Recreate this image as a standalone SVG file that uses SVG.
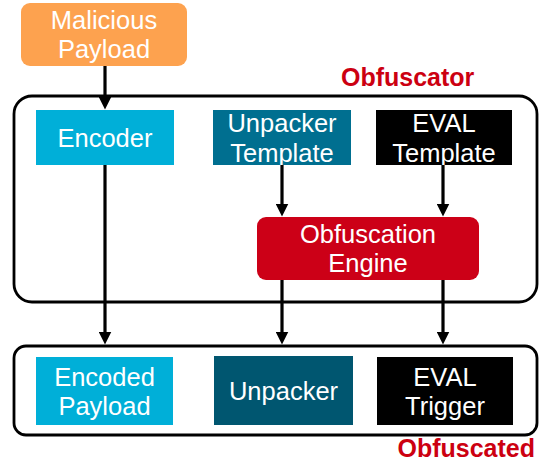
<svg xmlns="http://www.w3.org/2000/svg" width="543" height="464" viewBox="0 0 543 464">
  <style>
    .t { font-family: "Liberation Sans", Arial, sans-serif; font-size: 25.5px; fill: #ffffff; text-anchor: middle; }
    .lbl { font-family: "Liberation Sans", Arial, sans-serif; font-size: 25px; font-weight: bold; fill: #cc0011; }
    .frame { fill: #ffffff; stroke: #000000; stroke-width: 2.8; }
    .conn { stroke: #000000; stroke-width: 3.2; fill: none; marker-end: url(#ah); }
  </style>
  <defs>
    <marker id="ah" viewBox="0 0 13 13" markerWidth="13" markerHeight="13" refX="0.5" refY="6.5" orient="auto" markerUnits="userSpaceOnUse">
      <path d="M0,0 L13,6.5 L0,13 Z" fill="#000000"/>
    </marker>
  </defs>
  <rect width="543" height="464" fill="#ffffff"/>

  <g id="obfuscator">
    <rect class="frame" x="14" y="96" width="523" height="206" rx="18"/>
    <text class="lbl" x="341" y="86">Obfuscator</text>
  </g>
  <g id="obfuscated">
    <rect class="frame" x="14" y="346" width="523" height="89" rx="12"/>
    <text class="lbl" x="535" y="457" text-anchor="end">Obfuscated</text>
  </g>

  <g id="malicious-payload">
    <rect x="21" y="3" width="166" height="63" rx="9" fill="#fda24f"/>
    <text class="t" x="104" y="29">Malicious</text>
    <text class="t" x="104" y="58">Payload</text>
  </g>

  <g id="encoder">
    <rect x="36" y="110" width="138" height="55" fill="#00afd8"/>
    <text class="t" x="105" y="147">Encoder</text>
  </g>
  <g id="unpacker-template">
    <rect x="213" y="110" width="138" height="55" fill="#006f90"/>
    <text class="t" x="282" y="132">Unpacker</text>
    <text class="t" x="282" y="162">Template</text>
  </g>
  <g id="eval-template">
    <rect x="376" y="110" width="136" height="55" fill="#000000"/>
    <text class="t" x="444" y="132">EVAL</text>
    <text class="t" x="444" y="162">Template</text>
  </g>
  <g id="obfuscation-engine">
    <rect x="257" y="217" width="222" height="63" rx="9" fill="#cc0017"/>
    <text class="t" x="368" y="243">Obfuscation</text>
    <text class="t" x="368" y="272">Engine</text>
  </g>

  <g id="encoded-payload">
    <rect x="36" y="357" width="137" height="68" fill="#00afd8"/>
    <text class="t" x="104.5" y="386">Encoded</text>
    <text class="t" x="104.5" y="415">Payload</text>
  </g>
  <g id="unpacker">
    <rect x="214" y="356" width="139" height="69" fill="#005670"/>
    <text class="t" x="283.5" y="400">Unpacker</text>
  </g>
  <g id="eval-trigger">
    <rect x="377" y="357" width="136" height="68" fill="#000000"/>
    <text class="t" x="445" y="386">EVAL</text>
    <text class="t" x="445" y="415">Trigger</text>
  </g>

  <g id="connectors">
    <line class="conn" x1="105" y1="66" x2="105" y2="97"/>
    <line class="conn" x1="105" y1="165" x2="105" y2="332"/>
    <line class="conn" x1="282" y1="165" x2="282" y2="204"/>
    <line class="conn" x1="443" y1="165" x2="443" y2="204"/>
    <line class="conn" x1="282" y1="280" x2="282" y2="332"/>
    <line class="conn" x1="443" y1="280" x2="443" y2="332"/>
  </g>
</svg>
